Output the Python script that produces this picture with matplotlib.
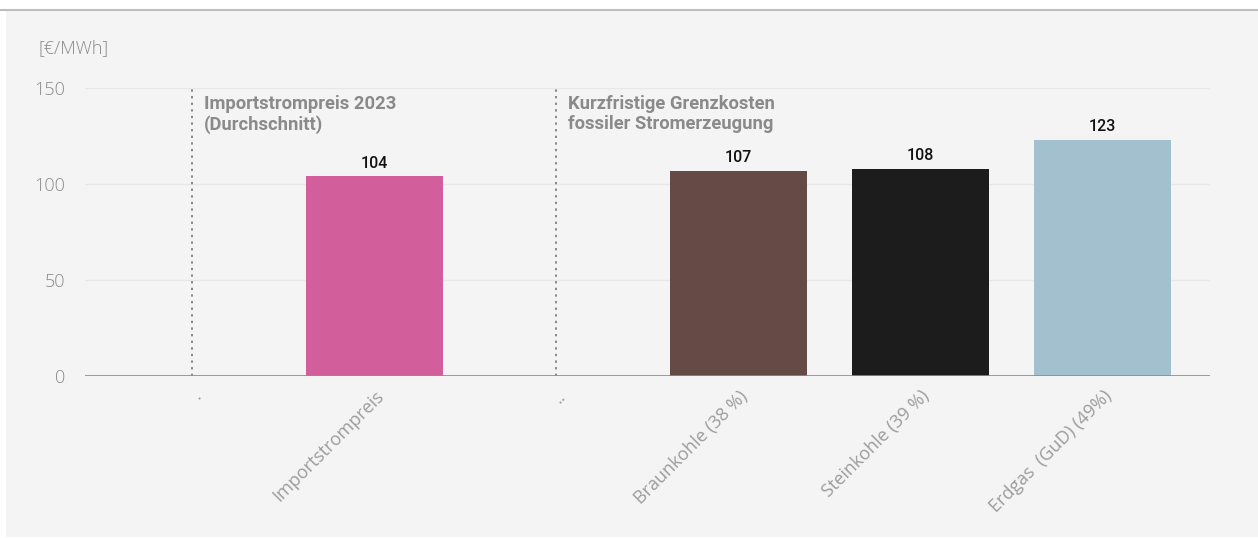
import matplotlib.pyplot as plt
from matplotlib.lines import Line2D
from matplotlib.patches import Rectangle

categories = [".", "Importstrompreis", "..", "Braunkohle (38 %)",
              "Steinkohle (39 %)", "Erdgas  (GuD) (49%)"]
values = [None, 104, None, 107, 108, 123]
colors = ["none", "#d25f9c", "none", "#654a45", "#1c1c1c", "#a3c0ce"]
group_titles = ["Importstrompreis 2023\n(Durchschnitt)",
                "Kurzfristige Grenzkosten\nfossiler Stromerzeugung"]
group_pos = [0, 2]
yticks = [0, 50, 100, 150]

fig = plt.figure(figsize=(12.58, 5.38), dpi=100)
fig.patch.set_facecolor("white")

# grey card behind the chart, with a thin line on top
fig.patches.append(Rectangle((6 / 1258, 0.002), 1 - 6 / 1258, 1 - 10 / 538 - 0.002,
                             transform=fig.transFigure, facecolor="#f4f4f4",
                             edgecolor="none", zorder=-5))
fig.lines.append(Line2D([0, 1], [1 - 10 / 538] * 2, transform=fig.transFigure,
                        color="#bdbdbd", linewidth=1.5, zorder=-4))

ax = fig.add_axes([85 / 1258, 162 / 538, 1125 / 1258, 288 / 538])
ax.set_facecolor("none")

x = list(range(len(categories)))
heights = [v if v is not None else 0 for v in values]
ax.bar(x, heights, width=0.75, color=colors, zorder=3)

for xi, v in zip(x, values):
    if v is not None:
        ax.annotate(str(v), (xi, v), xytext=(0, 4), textcoords="offset points",
                    ha="center", va="bottom", fontsize=11.5, color="#111111",
                    family="Roboto", fontweight="medium")

for gp, title in zip(group_pos, group_titles):
    ax.axvline(gp, ymin=0, ymax=1, color="#888888", linestyle=(0, (1.2, 2.2)),
               linewidth=1.4, zorder=2)
    ax.annotate(title, (gp, 150), xytext=(8, -5), textcoords="offset points",
                ha="left", va="top", fontsize=13.2, color="#8a8a8a",
                family="Roboto", fontweight="bold", linespacing=1.15)

ax.set_xlim(-0.59, 5.59)
ax.set_ylim(0, 150)
ax.set_yticks(yticks)
ax.grid(axis="y", color="#e8e8e8", linewidth=1, zorder=0)
ax.axhline(0, color="#8c8c8c", linewidth=1.2, zorder=4)

for s in ax.spines.values():
    s.set_visible(False)

ax.set_xticks(x)
ax.set_xticklabels(categories, rotation=45, ha="right", rotation_mode="anchor",
                   fontsize=13, color="#9c9c9c", family="Open Sans")
ax.tick_params(axis="x", length=0, pad=8)
ax.tick_params(axis="y", length=0, pad=14, labelsize=13, labelcolor="#8a8a8a")
for lab in ax.get_yticklabels():
    lab.set_family("Open Sans")
    lab.set_fontweight("light")

fig.text(38 / 1258, 1 - 48 / 538, "[€/MWh]", fontsize=13, color="#8a8a8a",
         family="Open Sans", fontweight="light", va="center", ha="left")

fig.savefig("out.png", dpi=100, facecolor=fig.get_facecolor())
